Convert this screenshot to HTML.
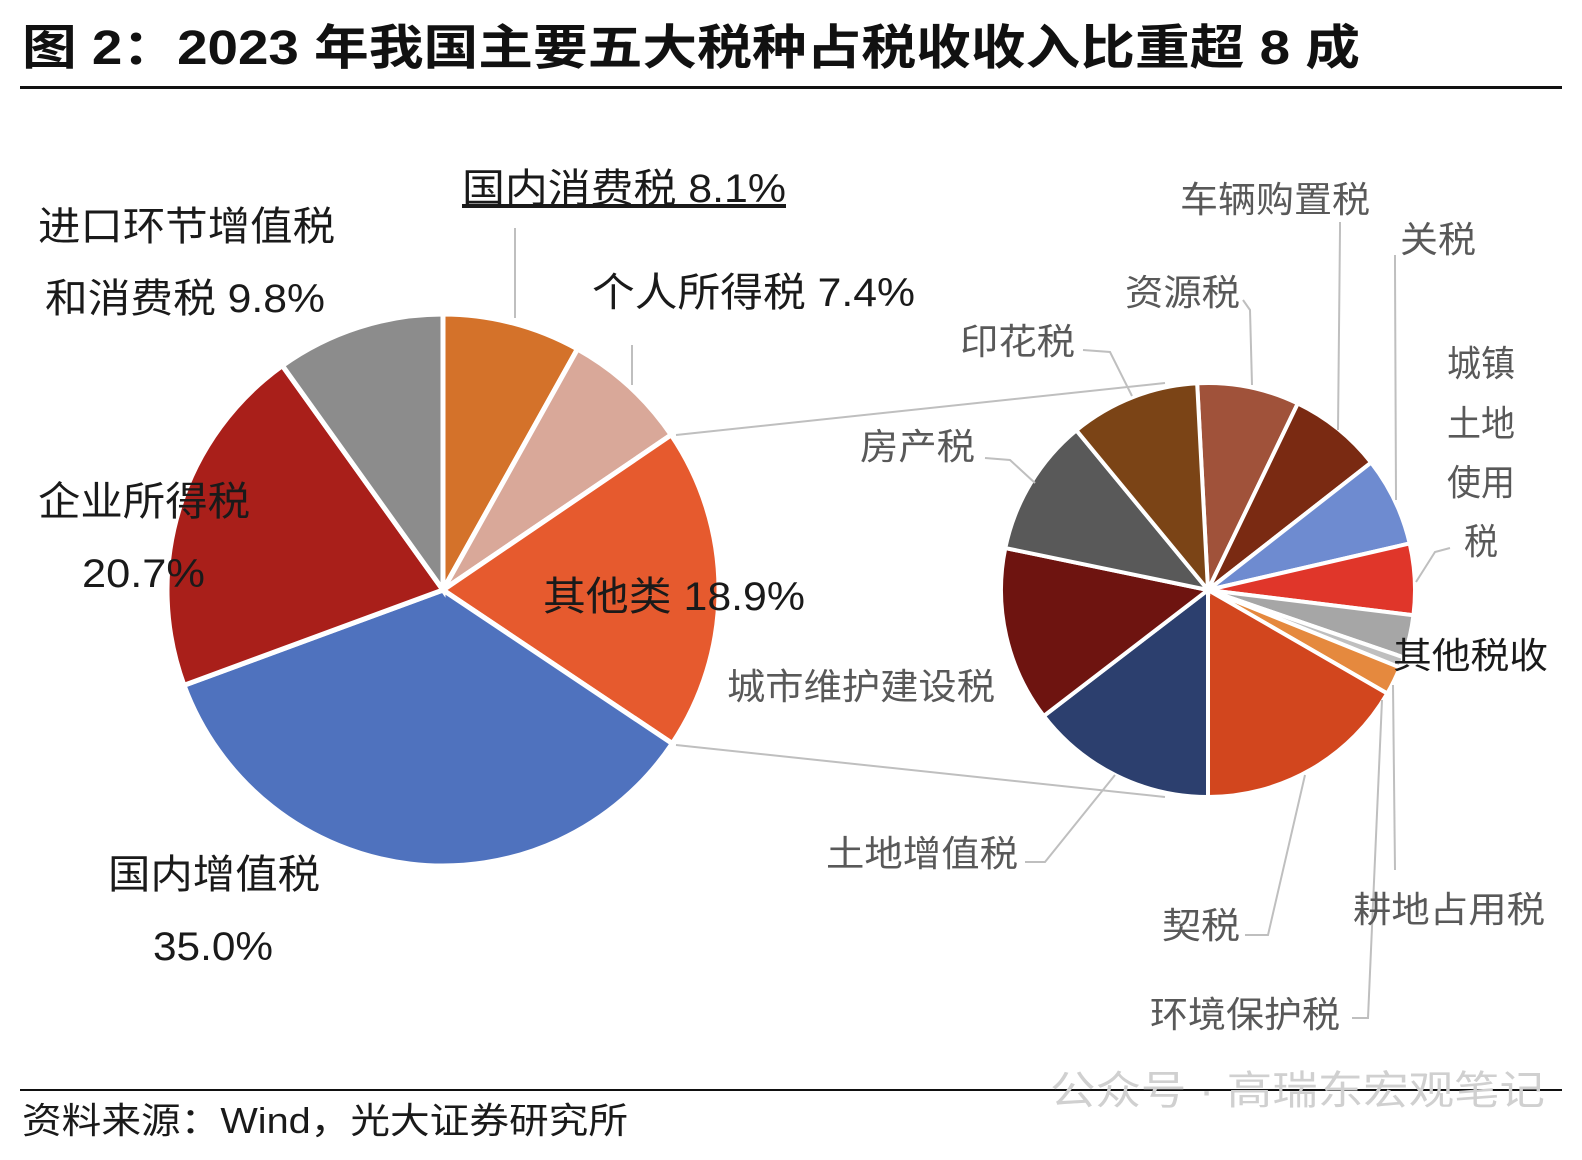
<!DOCTYPE html>
<html><head><meta charset="utf-8"><style>
body{margin:0;background:#fff;}
svg{display:block;font-family:"Liberation Sans","Noto Sans CJK SC",sans-serif;}
</style></head><body>
<svg id="s" width="1582" height="1160" viewBox="0 0 1582 1160">
<text x="22" y="64" font-size="48" font-weight="bold" fill="#111" textLength="1338" lengthAdjust="spacingAndGlyphs">图 2：2023 年我国主要五大税种占税收收入比重超 8 成</text>
<rect x="20" y="86" width="1542" height="3" fill="#111"/>
<g id="pies"></g>
<g stroke="#bfbfbf" stroke-width="2" fill="none">
<line x1="676" y1="435" x2="1165" y2="383"/>
<line x1="676" y1="745" x2="1165" y2="797"/>
<polyline points="515,228 515,318"/>
<polyline points="632,345 632,385"/>
<polyline points="1083,350 1110,352 1132,396"/>
<polyline points="985,458 1010,460 1035,483"/>
<polyline points="1243,300 1250,310 1252,385"/>
<polyline points="1340,222 1340,230 1338,430"/>
<polyline points="1395,255 1395,265 1396,500"/>
<polyline points="1450,548 1435,552 1416,582"/>
<polyline points="1025,862 1045,862 1115,775"/>
<polyline points="1245,935 1268,935 1305,775"/>
<polyline points="1352,1018 1368,1018 1382,700"/>
<polyline points="1395,870 1393,685"/>
</g>
<g font-size="40" fill="#1a1a1a">
<text x="38" y="240" textLength="297" lengthAdjust="spacingAndGlyphs">进口环节增值税</text>
<text x="45" y="312" textLength="280" lengthAdjust="spacingAndGlyphs">和消费税 9.8%</text>
<text x="462" y="202" text-decoration="underline" textLength="324" lengthAdjust="spacingAndGlyphs">国内消费税 8.1%</text>
<text x="592" y="306" textLength="323" lengthAdjust="spacingAndGlyphs">个人所得税 7.4%</text>
<text x="38" y="515" textLength="212" lengthAdjust="spacingAndGlyphs">企业所得税</text>
<text x="82" y="587" textLength="123" lengthAdjust="spacingAndGlyphs">20.7%</text>
<text x="543" y="610" textLength="262" lengthAdjust="spacingAndGlyphs">其他类 18.9%</text>
<text x="108" y="888" textLength="212" lengthAdjust="spacingAndGlyphs">国内增值税</text>
<text x="153" y="960" textLength="120" lengthAdjust="spacingAndGlyphs">35.0%</text>
</g>
<g font-size="36" fill="#595959">
<text x="1180" y="212" textLength="190" lengthAdjust="spacingAndGlyphs">车辆购置税</text>
<text x="1400" y="252" textLength="76" lengthAdjust="spacingAndGlyphs">关税</text>
<text x="1125" y="305" textLength="115" lengthAdjust="spacingAndGlyphs">资源税</text>
<text x="960" y="354" textLength="115" lengthAdjust="spacingAndGlyphs">印花税</text>
<text x="1447" y="376" textLength="68" lengthAdjust="spacingAndGlyphs">城镇</text>
<text x="1447" y="436" textLength="68" lengthAdjust="spacingAndGlyphs">土地</text>
<text x="1447" y="495" textLength="68" lengthAdjust="spacingAndGlyphs">使用</text>
<text x="1464" y="554" textLength="34" lengthAdjust="spacingAndGlyphs">税</text>
<text x="860" y="459" textLength="115" lengthAdjust="spacingAndGlyphs">房产税</text>
<text x="1393" y="668" fill="#1a1a1a" textLength="155" lengthAdjust="spacingAndGlyphs">其他税收</text>
<text x="727" y="699" textLength="268" lengthAdjust="spacingAndGlyphs">城市维护建设税</text>
<text x="826" y="866" textLength="192" lengthAdjust="spacingAndGlyphs">土地增值税</text>
<text x="1353" y="922" textLength="192" lengthAdjust="spacingAndGlyphs">耕地占用税</text>
<text x="1162" y="938" textLength="78" lengthAdjust="spacingAndGlyphs">契税</text>
<text x="1150" y="1027" textLength="190" lengthAdjust="spacingAndGlyphs">环境保护税</text>
</g>
<rect x="20" y="1089" width="1542" height="2" fill="#111"/>
<text x="1050" y="1104" font-size="40" fill="#d0d0d0" textLength="495" lengthAdjust="spacingAndGlyphs">公众号 · 高瑞东宏观笔记</text>
<text x="22" y="1133" font-size="36" fill="#1a1a1a" textLength="606" lengthAdjust="spacingAndGlyphs">资料来源：Wind，光大证券研究所</text>
</svg>
<script>
function pie(cx,cy,r,sl,sw){let g=document.getElementById('pies'),h='';
for(const[a0,a1,c]of sl){const p=a=>[cx+r*Math.sin(a*Math.PI/180),cy-r*Math.cos(a*Math.PI/180)];
const[x0,y0]=p(a0),[x1,y1]=p(a1);const L=(a1-a0)>180?1:0;
h+=`<path d="M${cx},${cy}L${x0},${y0}A${r},${r} 0 ${L} 1 ${x1},${y1}Z" fill="${c}" stroke="#fff" stroke-width="${sw}"/>`;}
g.innerHTML+=h;}
pie(443,590,276,[[0,29.16,'#D4722A'],[29.16,55.8,'#D9A899'],[55.8,123.8,'#E65A2E'],[123.8,249.8,'#4F72BE'],[249.8,324.4,'#A91F1A'],[324.4,360,'#8C8C8C']],5);
pie(1208,590,207,[[-3,25.7,'#A0523A'],[25.7,52,'#7A2A12'],[52,77,'#6E8BD0'],[77,97,'#E0362A'],[97,109,'#A6A6A6'],[109,112,'#BFBFBF'],[112,120,'#E5893E'],[120,180,'#D2461E'],[180,232.5,'#2C3F6E'],[232.5,281.7,'#6E1410'],[281.7,320.5,'#595959'],[320.5,357,'#7B4416']],4);
</script>
</body></html>
